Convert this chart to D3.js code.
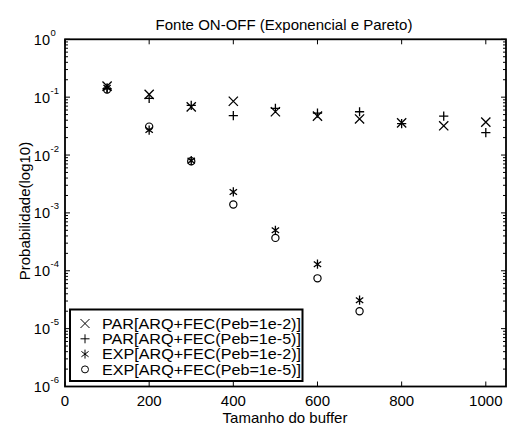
<!DOCTYPE html>
<html>
<head>
<meta charset="utf-8">
<script src="https://cdn.jsdelivr.net/npm/d3@7"></script>
<style>
  body { margin: 0; background: #fff; }
  text { font-family: "Liberation Sans", Arial, sans-serif; fill: #000; }
</style>
</head>
<body>
<div id="chart"></div>
<script>
// buffer sizes
const buffers = [100, 200, 300, 400, 500, 600, 700, 800, 900, 1000];
// PAR = Pareto, EXP = Exponencial
const parPeb2 = [0.155, 0.112, 0.068, 0.085, 0.056, 0.047, 0.042, 0.036, 0.032, 0.037];
const parPeb5 = [0.14, 0.095, 0.072, 0.048, 0.064, 0.053, 0.056, 0.035, 0.047, 0.0243];
const expPeb2 = [0.145, 0.027, 0.008, 0.0023, 0.0005, 0.00013, 0.000031];
const expPeb5 = [0.135, 0.031, 0.0078, 0.0014, 0.00037, 0.000074, 0.00002];
const xTicks = [0, 200, 400, 600, 800, 1000];
const yTicks = [0, -1, -2, -3, -4, -5, -6];
const legendLabels = [
  "PAR[ARQ+FEC(Peb=1e-2)]",
  "PAR[ARQ+FEC(Peb=1e-5)]",
  "EXP[ARQ+FEC(Peb=1e-2)]",
  "EXP[ARQ+FEC(Peb=1e-5)]"
];

let width = 507, height = 425;
let margin = { top: 39.3, right: 1, bottom: 38.5, left: 65 };

let svg = d3.select('#chart').append('svg')
  .attr('width', width)
  .attr('height', height);

let x = d3.scaleLinear().domain([0, 1048]).range([margin.left, width - margin.right]);
let y = d3.scaleLog().domain([1e-6, 1]).range([height - margin.bottom, margin.top]);

// marker shapes
function markerPath(kind, s) {
  if (kind === 'x') return `M${-s},${-s}L${s},${s}M${-s},${s}L${s},${-s}`;
  if (kind === 'plus') return `M${-s},0L${s},0M0,${-s}L0,${s}`;
  if (kind === 'star') return `M0,${-s}L0,${s}M${-s*0.8},${-s*0.6}L${s*0.8},${s*0.6}M${-s*0.8},${s*0.6}L${s*0.8},${-s*0.6}`;
  return null;
}

let series = [
  { vals: parPeb2, kind: 'x' },
  { vals: parPeb5, kind: 'plus' },
  { vals: expPeb2, kind: 'star' },
  { vals: expPeb5, kind: 'circle' }
];

// axes box
let x0 = x.range()[0], x1 = x.range()[1];
let y0 = y.range()[0], y1 = y.range()[1];

let g = svg.append('g');

// ticks (inward, on all four sides)
xTicks.forEach(function(t) {
  g.append('line').attr('x1', x(t)).attr('x2', x(t)).attr('y1', y0).attr('y2', y0 - 5)
    .attr('stroke', '#000').attr('stroke-width', 1);
  g.append('line').attr('x1', x(t)).attr('x2', x(t)).attr('y1', y1).attr('y2', y1 + 5)
    .attr('stroke', '#000').attr('stroke-width', 1);
  g.append('text').attr('x', x(t)).attr('y', y0 + 19.5)
    .attr('text-anchor', 'middle').style('font-size', '15px').text(t);
});

yTicks.forEach(function(p) {
  let v = Math.pow(10, p);
  [x0, x1].forEach(function(xx, i) {
    let dir = i === 0 ? 1 : -1;
    g.append('line').attr('x1', xx).attr('x2', xx + dir * 5).attr('y1', y(v)).attr('y2', y(v))
      .attr('stroke', '#000').attr('stroke-width', 1);
    if (p > -6) {
      for (let k = 2; k < 10; k++) {
        let yy = y(k * v / 10);
        g.append('line').attr('x1', xx).attr('x2', xx + dir * 3).attr('y1', yy).attr('y2', yy)
          .attr('stroke', '#000').attr('stroke-width', 1);
      }
    }
  });
  g.append('text').attr('x', 50).attr('y', y(v) + 5.5)
    .attr('text-anchor', 'end').style('font-size', '14.5px').text('10');
  g.append('text').attr('x', 50.5).attr('y', y(v) - 3.5)
    .attr('text-anchor', 'start').style('font-size', '9.5px').text(String(p));
});

g.append('rect')
  .attr('x', x0).attr('y', y1).attr('width', x1 - x0).attr('height', y0 - y1)
  .attr('fill', 'none').attr('stroke', '#000').attr('stroke-width', 1.8);

// data markers
series.forEach(function(s) {
  let pts = s.vals.map(function(v, i) { return [buffers[i], v]; });
  let sel = g.selectAll(null).data(pts).enter();
  if (s.kind === 'circle') {
    sel.append('circle')
      .attr('cx', d => x(d[0])).attr('cy', d => y(d[1])).attr('r', 3.6)
      .attr('fill', 'none').attr('stroke', '#000').attr('stroke-width', 1.2);
  } else {
    sel.append('path')
      .attr('transform', d => `translate(${x(d[0])},${y(d[1])})`)
      .attr('d', markerPath(s.kind, 4.6))
      .attr('fill', 'none').attr('stroke', '#000').attr('stroke-width', 1.3);
  }
});

// legend
let lg = g.append('g');
lg.append('rect').attr('x', 70).attr('y', 309.5).attr('width', 232.5).attr('height', 71.5)
  .attr('fill', '#fff').attr('stroke', '#000').attr('stroke-width', 2);
legendLabels.forEach(function(label, i) {
  let cy = 323.5 + i * 15.3;
  let kind = series[i].kind;
  if (kind === 'circle') {
    lg.append('circle').attr('cx', 85).attr('cy', cy).attr('r', 3.5)
      .attr('fill', 'none').attr('stroke', '#000').attr('stroke-width', 1);
  } else {
    lg.append('path').attr('transform', `translate(85,${cy})`)
      .attr('d', markerPath(kind, 4.5))
      .attr('fill', 'none').attr('stroke', '#000').attr('stroke-width', 1);
  }
  lg.append('text').attr('x', 102).attr('y', cy + 5.2)
    .attr('textLength', 199).attr('lengthAdjust', 'spacingAndGlyphs')
    .style('font-size', '14px').text(label);
});

// titles
svg.append('text').attr('x', 284).attr('y', 30)
  .attr('text-anchor', 'middle').style('font-size', '15px')
  .text('Fonte ON-OFF (Exponencial e Pareto)');
svg.append('text').attr('x', 285).attr('y', 423)
  .attr('text-anchor', 'middle').style('font-size', '15px')
  .text('Tamanho do buffer');
svg.append('text')
  .attr('transform', 'translate(30,211) rotate(-90)')
  .attr('text-anchor', 'middle').style('font-size', '15px')
  .text('Probabilidade(log10)');
</script>
</body>
</html>
